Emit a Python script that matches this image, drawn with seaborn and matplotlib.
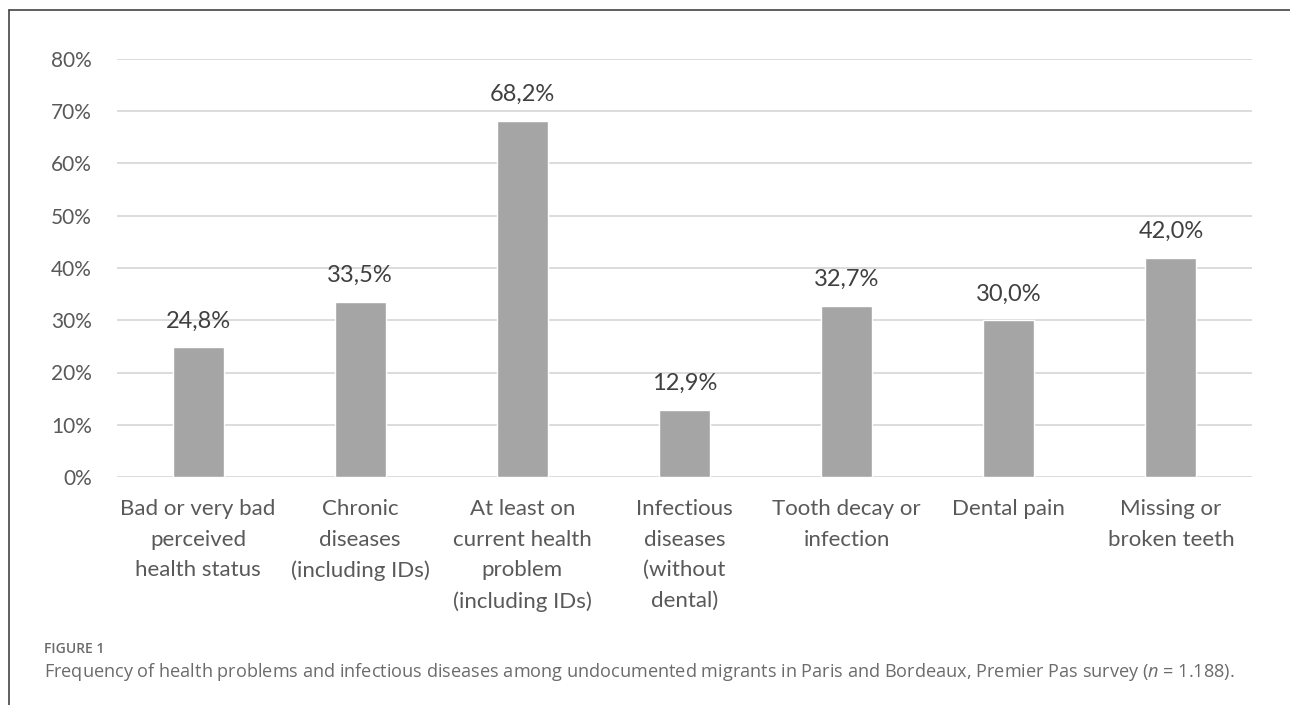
import pandas as pd
import seaborn as sns
import matplotlib.pyplot as plt
from matplotlib.lines import Line2D
from matplotlib.ticker import FuncFormatter

categories = [
    'Bad or very bad\nperceived\nhealth status',
    'Chronic\ndiseases\n(including IDs)',
    'At least on\ncurrent health\nproblem\n(including IDs)',
    'Infectious\ndiseases\n(without\ndental)',
    'Tooth decay or\ninfection',
    'Dental pain',
    'Missing or\nbroken teeth',
]
values = [24.8, 33.5, 68.2, 12.9, 32.7, 30.0, 42.0]
y_ticks = [0, 10, 20, 30, 40, 50, 60, 70, 80]

caption_title = 'FIGURE 1'
caption_text = ('Frequency of health problems and infectious diseases among undocumented '
                'migrants in Paris and Bordeaux, Premier Pas survey ($n$ = 1.188).')

sns.set_theme(style='white')
plt.rcParams['font.family'] = ['Lato', 'DejaVu Sans']
plt.rcParams['mathtext.fontset'] = 'custom'
plt.rcParams['mathtext.it'] = 'Open Sans:italic'
plt.rcParams['mathtext.rm'] = 'Open Sans'

df = pd.DataFrame({'category': categories, 'value': values})

fig = plt.figure(figsize=(12.9, 7.05), dpi=100)
ax = fig.add_axes([117 / 1290, 1 - 477 / 705, (1252 - 117) / 1290, (477 - 59) / 705])

sns.barplot(data=df, x='category', y='value', color='#A5A5A5', saturation=1,
            width=0.315, ax=ax, zorder=3)

ax.set_ylim(0, 80)
ax.set_xlim(-0.5, len(categories) - 0.5)
ax.set_yticks(y_ticks)
ax.yaxis.set_major_formatter(FuncFormatter(lambda v, _: f'{int(v)}%'))
ax.grid(axis='y', color='#D9D9D9', linewidth=1.3, zorder=0)
ax.set_xlabel('')
ax.set_ylabel('')
for s in ax.spines.values():
    s.set_visible(False)
ax.tick_params(axis='y', length=0, pad=18, labelsize=15, labelcolor='#595959')
ax.tick_params(axis='x', length=0, pad=16, labelsize=16, labelcolor='#595959')
for lbl in ax.get_xticklabels():
    lbl.set_linespacing(1.66)

for i, v in enumerate(values):
    ax.annotate(f'{v:.1f}'.replace('.', ',') + '%', (i, v), xytext=(0, 19),
                textcoords='offset points', ha='center', va='center',
                fontsize=17, color='#404040')

# frame lines of the figure panel
fig.add_artist(Line2D([9 / 1290, 9 / 1290], [0, 1 - 10 / 705], color='#444444',
                      linewidth=1.2, transform=fig.transFigure))
fig.add_artist(Line2D([9 / 1290, 1], [1 - 10 / 705, 1 - 10 / 705], color='#444444',
                      linewidth=1.2, transform=fig.transFigure))

fig.text(44 / 1290, 1 - 649 / 705, caption_title, fontsize=10, fontweight='semibold',
         color='#6b6b6b', va='center', ha='left', family=['Open Sans', 'DejaVu Sans'])
fig.text(44 / 1290, 1 - 672 / 705, caption_text, fontsize=13.1, color='#6b6b6b',
         va='center', ha='left', family=['Open Sans', 'DejaVu Sans'])

fig.savefig('out.png', dpi=100)
